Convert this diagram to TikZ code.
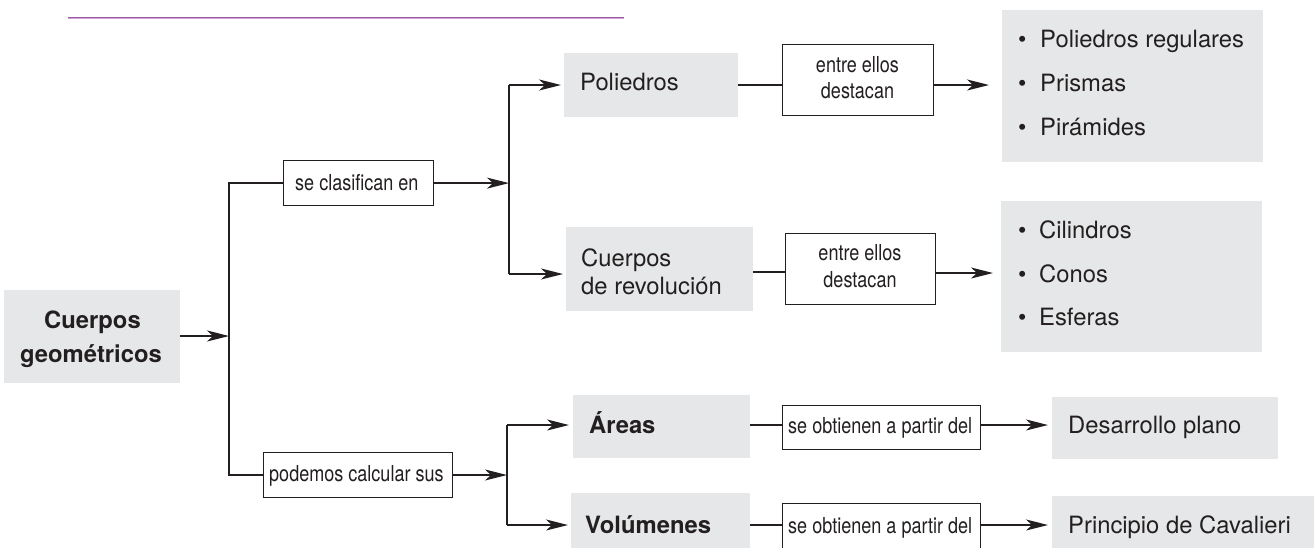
\documentclass[tikz,border=0pt]{standalone}
\usepackage{fontspec}
\setmainfont{TeX Gyre Heros}
\newfontfamily\cgnarrowfam[FakeStretch=0.82]{TeX Gyre Heros}
\usetikzlibrary{arrows.meta}
\definecolor{boxgrey}{HTML}{E6E7E8}
\definecolor{inkc}{HTML}{231F20}
\definecolor{purpdark}{HTML}{9A5AA3}
\definecolor{purplight}{HTML}{D2A4D6}
\newcommand\cgmain{\fontsize{23.8}{28}\selectfont}
\newcommand\cgsmall{\cgnarrowfam\fontsize{22}{26}\selectfont}
\tikzset{
  gbox/.style={rectangle, fill=boxgrey, draw=none, inner sep=0pt, anchor=north west},
  wbox/.style={rectangle, fill=white, draw=inkc, line width=1.2pt, inner sep=0pt, anchor=north west},
  tmain/.style={font=\cgmain, text=inkc, inner sep=0pt},
  tbold/.style={font=\cgmain\bfseries, text=inkc, inner sep=0pt},
  tsmall/.style={font=\cgsmall, text=inkc, inner sep=0pt},
  conn/.style={draw=inkc, line width=1.3pt},
  arr/.style={conn, -{Stealth[length=22pt,width=11pt,inset=6pt]}},
}
\begin{document}
\begin{tikzpicture}[x=1pt,y=-1pt]
\useasboundingbox (0,0) rectangle (1314,547);
\clip (0,0) rectangle (1314,547);
% purple rule
\draw[purpdark, line width=1.1pt] (68,17.2) -- (624,17.2);
\draw[purplight, line width=0.8pt] (68,18.6) -- (624,18.6);

% grey boxes
\node[gbox, minimum width=176pt, minimum height=93pt] (cg) at (4,290) {};
\node[gbox, minimum width=174pt, minimum height=64pt] (poli) at (564,53) {};
\node[gbox, minimum width=187pt, minimum height=84pt] (cdr) at (566,227) {};
\node[gbox, minimum width=261pt, minimum height=152pt] (l1) at (1002,10) {};
\node[gbox, minimum width=261pt, minimum height=151pt] (l2) at (1001,201) {};
\node[gbox, minimum width=177pt, minimum height=63pt] (ar) at (573,395) {};
\node[gbox, minimum width=179pt, minimum height=70pt] (vo) at (571,493) {};
\node[gbox, minimum width=226pt, minimum height=62pt] (dp) at (1052,397) {};
\node[gbox, minimum width=280pt, minimum height=70pt] (pc) at (1052,496) {};

% white label boxes
\node[wbox, minimum width=150pt, minimum height=45pt] (scl) at (283,160) {};
\node[wbox, minimum width=189pt, minimum height=45pt] (pcs) at (263,452) {};
\node[wbox, minimum width=151pt, minimum height=71pt] (ee1) at (782,44) {};
\node[wbox, minimum width=150pt, minimum height=71pt] (ee2) at (785,233) {};
\node[wbox, minimum width=198pt, minimum height=44pt] (so1) at (782,405) {};
\node[wbox, minimum width=198pt, minimum height=60pt] (so2) at (782,503) {};

% texts
\node[tbold, anchor=base] (tcg1) at (92.5,328) {Cuerpos};
\node[tbold, anchor=base] (tcg2) at (91,362) {geométricos};
\node[tsmall, anchor=base west] (tscl) at (295,190) {se clasifican en};
\node[tsmall, anchor=base west] (tpcs) at (269,481) {podemos calcular sus};
\node[tmain, anchor=base west] (tpoli) at (580,90) {Poliedros};
\node[tmain, anchor=base west] (tcdr1) at (581,266) {Cuerpos};
\node[tmain, anchor=base west] (tcdr2) at (581,294) {de revolución};
\node[tsmall, anchor=base] (tee1a) at (857.5,72.5) {entre ellos};
\node[tsmall, anchor=base] (tee1b) at (857.5,98.5) {destacan};
\node[tsmall, anchor=base] (tee2a) at (860,260.5) {entre ellos};
\node[tsmall, anchor=base] (tee2b) at (860,287) {destacan};
\foreach \yy/\txt [count=\i] in {47.5/Poliedros regulares,91.7/Prismas,135/Pirámides}{
  \node[tmain, anchor=base west] (b1\i) at (1018,\yy) {•};
  \node[tmain, anchor=base west] (i1\i) at (1040,\yy) {\txt};
}
\foreach \yy/\txt [count=\i] in {238/Cilindros,282/Conos,325.7/Esferas}{
  \node[tmain, anchor=base west] (b2\i) at (1018,\yy) {•};
  \node[tmain, anchor=base west] (i2\i) at (1039,\yy) {\txt};
}
\node[tbold, anchor=base west] (tar) at (589,433.5) {Áreas};
\node[tbold, anchor=base west] (tvo) at (585,533.5) {Volúmenes};
\node[tsmall, anchor=base west] (tso1) at (788,433) {se obtienen a partir del};
\node[tsmall, anchor=base west] (tso2) at (788,533) {se obtienen a partir del};
\node[tmain, anchor=base west] (tdp) at (1068,433.5) {Desarrollo plano};
\node[tmain, anchor=base west] (tpc) at (1068,533.5) {Principio de Cavalieri};

% junction coordinates
\coordinate (vL) at (229,336);
\coordinate (vT) at (509,182.5);
\coordinate (vB) at (507,475);
\coordinate (rP) at (509,85);
\coordinate (rC) at (509,274);
\coordinate (rA) at (507,425);
\coordinate (rV) at (507,525);

% connectors
\draw[arr] (cg.east |- vL) -- (vL);
\draw[conn] (scl.west) -| (vL |- pcs.west) -- (pcs.west);
\draw[arr] (scl.east) -- (scl.east -| vT);
\draw[conn] (rP) -- (rC);
\draw[arr, shorten >=3pt] (rP) -- (rP -| poli.west);
\draw[arr, shorten >=3pt] (rC) -- (rC -| cdr.west);
\draw[conn] (rP -| poli.east) -- (rP -| ee1.west);
\draw[arr, shorten >=13pt] (rP -| ee1.east) -- (rP -| l1.west);
\draw[conn] (cdr.east |- 0,272) -- (ee2.west |- 0,272);
\draw[arr, shorten >=8pt] (ee2.east |- 0,273) -- (l2.west |- 0,273);
\draw[arr] (pcs.east |- vB) -- (vB);
\draw[conn] (rA) -- (rV);
\draw[arr, shorten >=4pt] (rA) -- (rA -| ar.west);
\draw[arr, shorten >=3pt] (rV) -- (rV -| vo.west);
\draw[conn] (rA -| ar.east) -- (rA -| so1.west);
\draw[arr, shorten >=4pt] (rA -| so1.east) -- (rA -| dp.west);
\draw[conn] (rV -| vo.east) -- (rV -| so2.west);
\draw[arr, shorten >=4pt] (rV -| so2.east) -- (rV -| pc.west);
\end{tikzpicture}
\end{document}
